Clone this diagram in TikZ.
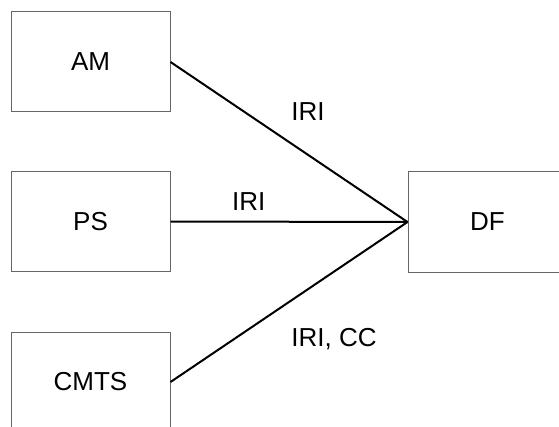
\documentclass[tikz,border=0pt]{standalone}
\usepackage{fontspec}
\setmainfont{Liberation Sans}
\usepackage{tikz}
\usetikzlibrary{arrows.meta, shapes}

\begin{document}
\begin{tikzpicture}[x=1pt, y=1pt, font=\fontsize{26}{30}\selectfont]
\useasboundingbox (0,0) rectangle (559,426);
\begin{scope}[every node/.style={rectangle, draw=black!60, line width=1pt,
              minimum width=159pt, minimum height=100pt, inner sep=0pt}]
  \node (AM) at (90.5,364) {AM};
  \node (PS) at (90.5,204.5) {PS};
  \node (CMTS) at (90.5,44) {CMTS};
  \node (DF) at (487.5,204) {DF};
\end{scope}

\begin{scope}[every edge/.style={draw=black, line width=2pt},
              every node/.style={inner sep=0pt}]
    \path (AM.east) edge node[pos=0.58, yshift=43pt] {IRI} (DF.west);
    \path (PS.east) edge node[pos=0.33, yshift=20pt] {IRI} (DF.west);
    \path (CMTS.east) edge node[pos=0.69, yshift=-67pt] {IRI, CC} (DF.west);
\end{scope}

\end{tikzpicture}
\end{document}
